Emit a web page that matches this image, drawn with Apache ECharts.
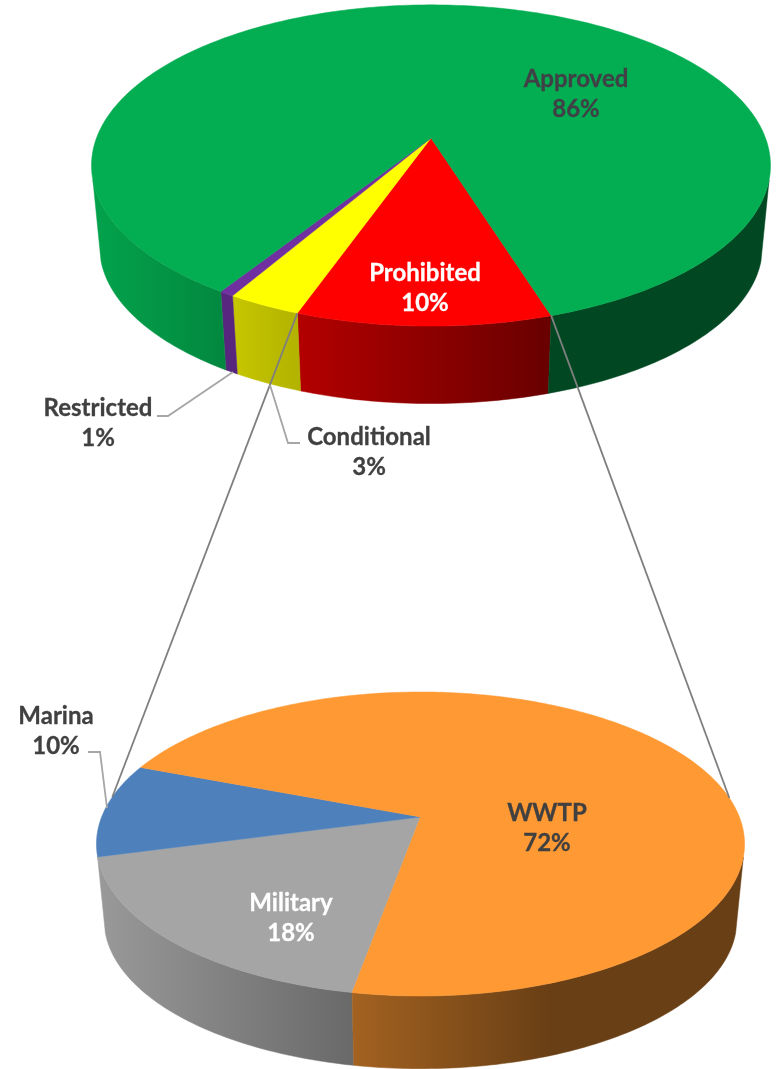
<!DOCTYPE html>
<html>
<head>
<meta charset="utf-8">
<style>
  html, body { margin: 0; padding: 0; background: #fff; }
  #chart { width: 781px; height: 1069px; }
</style>
<script src="https://cdn.jsdelivr.net/npm/echarts@6/dist/echarts.min.js"></script>
</head>
<body>
<div id="chart"></div>
<script>
// main pie, shares (labels print them rounded)
var topNames = ["Prohibited", "Conditional", "Restricted", "Approved"];
var topValues = [10.3, 3, 0.6, 86.1];
var topColors = ["#ff0000", "#ffff00", "#7030a0", "#03ad51"];

// breakdown of the prohibited slice
var bottomNames = ["Military", "Marina", "WWTP"];
var bottomValues = [18, 10, 72];
var bottomColors = ["#a5a5a5", "#4e80bb", "#ff9933"];

// perspective disc: cx,cy is the apex, k the foreshortening, start in degrees from the bottom, clockwise
var topPie = { cx: 431, cy: 138, rx: 334.5, ry: 155.9, k: 0.171, start: -17.5, depth: 82, scale: 0.976 };
var bottomPie = { cx: 420.5, cy: 817, rx: 318.9, ry: 147.2, k: 0.1776, start: 10.2, depth: 77, scale: 0.976 };

// rim is visible this far either side of the bottom
var rimLimit = 75;

// label centres, same order as the names
var topLabels = [
  { x: 425, y: 288, color: "#fff" },
  { x: 369, y: 452, color: "#404040" },
  { x: 98, y: 423, color: "#404040" },
  { x: 576, y: 94, color: "#404046" }
];
var bottomLabels = [
  { x: 291, y: 918, color: "#fff" },
  { x: 56, y: 731, color: "#404040" },
  { x: 547, y: 828, color: "#404040" }
];

// project an angle of the disc to the page, lower=true gives the underside
function project(pie, deg, lower) {
  var t = deg * Math.PI / 180;
  var u = -Math.sin(t), v = Math.cos(t);
  var w = 1 - pie.k * v;
  var s = lower ? pie.scale : 1;
  return [pie.cx + s * pie.rx * u / w, pie.cy + (lower ? pie.depth : 0) + s * pie.ry * v / w];
}

function sliceAngles(values, start) {
  var sum = values.reduce(function (a, b) { return a + b; }, 0);
  var cur = start;
  return values.map(function (val) {
    var from = cur;
    cur += val / sum * 360;
    return [from, cur];
  });
}

function arc(pie, from, to, lower) {
  var pts = [];
  var n = Math.max(2, Math.ceil(Math.abs(to - from)));
  for (var i = 0; i <= n; i++) {
    pts.push(project(pie, from + (to - from) * i / n, lower));
  }
  return pts;
}

function shade(hex, f) {
  var c = parseInt(hex.slice(1), 16);
  var r = Math.round((c >> 16 & 255) * f), g = Math.round((c >> 8 & 255) * f), b = Math.round((c & 255) * f);
  return "rgb(" + r + "," + g + "," + b + ")";
}

// lighting of the rim, one gradient across the page for every slice
function wallFill(hex) {
  return new echarts.graphic.LinearGradient(100, 0, 550, 0, [
    { offset: 0, color: shade(hex, 0.93) },
    { offset: 1, color: shade(hex, 0.41) }
  ], true);
}

function wallSeries(pie, values, colors) {
  var angles = sliceAngles(values, pie.start);
  return {
    type: "custom",
    coordinateSystem: "none",
    silent: true,
    z: 2,
    data: values,
    renderItem: function (params) {
      var a = angles[params.dataIndex];
      var fill = wallFill(colors[params.dataIndex]);
      var kids = [];
      // only the parts facing the viewer
      [-360, 0, 360].forEach(function (off) {
        var from = Math.max(a[0], off - rimLimit), to = Math.min(a[1], off + rimLimit);
        if (to <= from) return;
        var pts = arc(pie, from, to, false).concat(arc(pie, to, from, true));
        kids.push({
          type: "polygon",
          shape: { points: pts },
          style: { fill: fill, stroke: fill, lineWidth: 0.5 }
        });
      });
      return { type: "group", children: kids };
    }
  };
}

function faceSeries(pie, names, values, colors, labels) {
  var angles = sliceAngles(values, pie.start);
  return {
    type: "custom",
    coordinateSystem: "none",
    silent: true,
    z: 3,
    data: values,
    renderItem: function (params, api) {
      var i = params.dataIndex;
      var a = angles[i];
      return {
        type: "group",
        children: [
          {
            type: "polygon",
            shape: { points: [[pie.cx, pie.cy]].concat(arc(pie, a[0], a[1], false)) },
            style: { fill: colors[i], stroke: colors[i], lineWidth: 0.5 }
          },
          {
            type: "text",
            z2: 50,
            style: {
              x: labels[i].x,
              y: labels[i].y,
              text: names[i] + "\n" + Math.round(api.value(0)) + "%",
              fill: labels[i].color,
              stroke: labels[i].color,
              lineWidth: 0.3,
              font: "bold 24px Lato",
              lineHeight: 30,
              align: "center",
              verticalAlign: "middle"
            }
          }
        ]
      };
    }
  };
}

function leader(points, color, width) {
  return {
    type: "polyline",
    z: 10,
    silent: true,
    shape: { points: points },
    style: { fill: null, stroke: color, lineWidth: width }
  };
}

var prohibited = sliceAngles(topValues, topPie.start)[0];

var option = {
  animation: false,
  backgroundColor: "#fff",
  series: [
    wallSeries(topPie, topValues, topColors),
    wallSeries(bottomPie, bottomValues, bottomColors),
    faceSeries(topPie, topNames, topValues, topColors, topLabels),
    faceSeries(bottomPie, bottomNames, bottomValues, bottomColors, bottomLabels)
  ],
  graphic: [
    // series lines from the prohibited slice down to the breakdown
    leader([project(topPie, prohibited[1]), project(bottomPie, 98)], "#7f7f7f", 1.8),
    leader([project(topPie, prohibited[0]), project(bottomPie, -97.6)], "#7f7f7f", 1.8),
    // data label leaders
    leader([[233, 372], [168, 416], [157, 416]], "#a6a6a6", 1.8),
    leader([[270, 385], [288, 443], [300, 443]], "#a6a6a6", 1.8),
    leader([[88, 752], [100, 752], [107, 808]], "#a6a6a6", 1.8)
  ]
};

var myChart = echarts.init(document.getElementById("chart"));
myChart.setOption(option);
</script>
</body>
</html>
